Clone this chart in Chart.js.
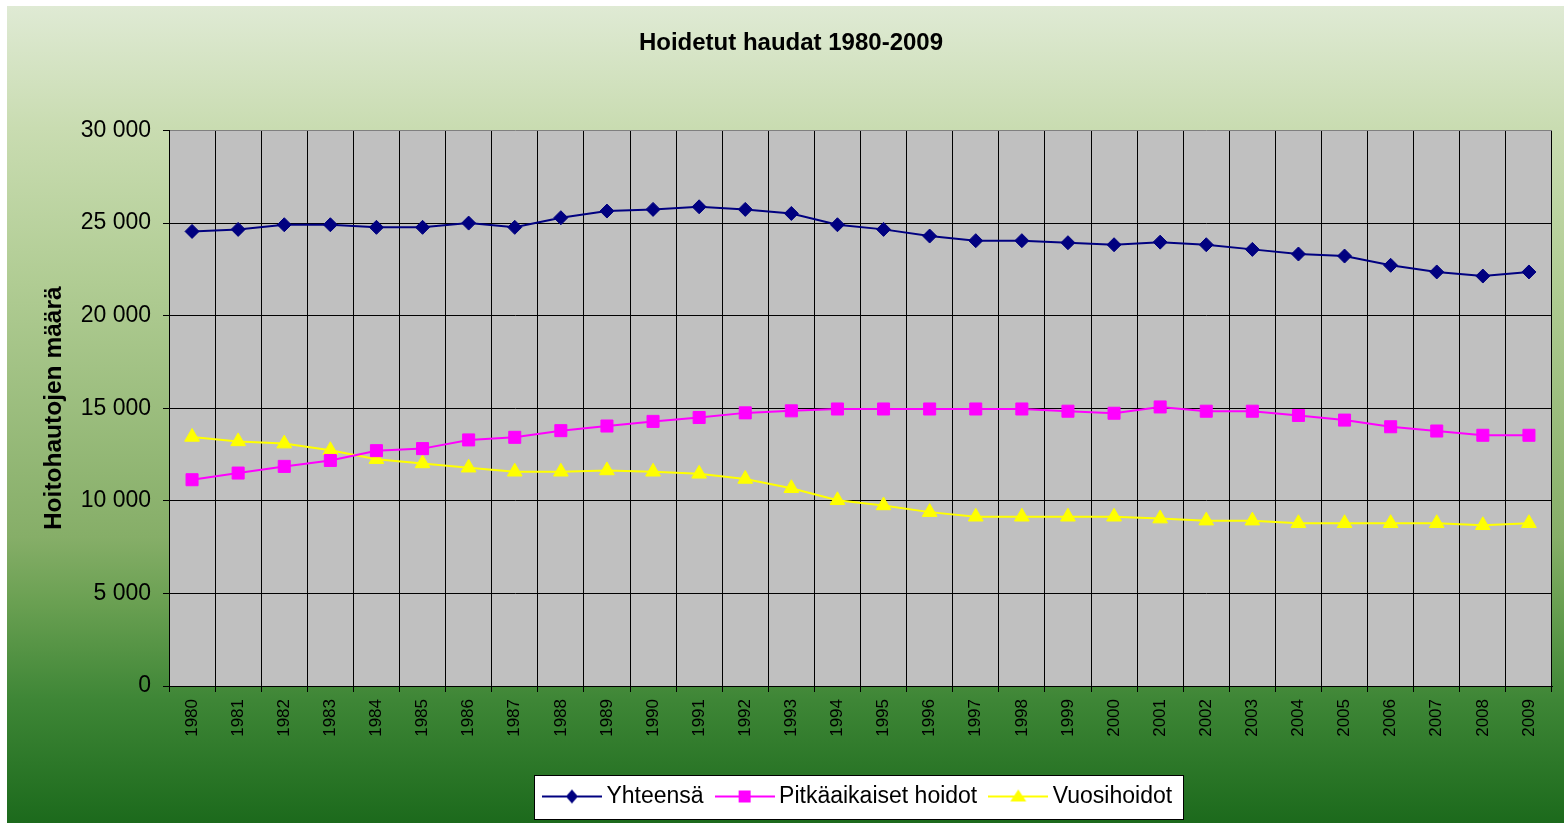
<!DOCTYPE html>
<html>
<head>
<meta charset="utf-8">
<script src="https://cdn.jsdelivr.net/npm/chart.js@4.4.1/dist/chart.umd.min.js"></script>
<style>
html,body{margin:0;padding:0;background:#fff;overflow:hidden;}
canvas{display:block;}
</style>
</head>
<body>
<canvas id="c" width="1564" height="823"></canvas>
<script>
// ---- data ----
const years = ['1980','1981','1982','1983','1984','1985','1986','1987','1988','1989',
               '1990','1991','1992','1993','1994','1995','1996','1997','1998','1999',
               '2000','2001','2002','2003','2004','2005','2006','2007','2008','2009'];
const yhteensa = [24550, 24660, 24910, 24910, 24770, 24770, 25000, 24770, 25290, 25650,
                  25740, 25880, 25740, 25520, 24910, 24660, 24300, 24050, 24050, 23940,
                  23830, 23970, 23830, 23580, 23330, 23220, 22720, 22360, 22140, 22360];
const pitkaaikaiset = [11140, 11500, 11860, 12180, 12710, 12820, 13290, 13430, 13790, 14040,
                       14290, 14500, 14750, 14860, 14960, 14960, 14960, 14960, 14960, 14840,
                       14730, 15070, 14840, 14840, 14610, 14360, 14000, 13770, 13540, 13540];
const vuosihoidot = [13450, 13210, 13090, 12730, 12250, 12020, 11790, 11570, 11570, 11640,
                     11570, 11460, 11180, 10680, 10030, 9750, 9390, 9140, 9140, 9140,
                     9140, 9040, 8930, 8930, 8790, 8790, 8790, 8790, 8680, 8790];
const seriesNames = ['Yhteensä', 'Pitkäaikaiset hoidot', 'Vuosihoidot'];
const chartTitle = 'Hoidetut haudat 1980-2009';
const yTitle = 'Hoitohautojen määrä';
const yMin = 0, yMax = 30000, yStep = 5000;

Chart.defaults.font.family = "'Liberation Sans', Arial, sans-serif";
Chart.defaults.color = '#000';

function fmt(v){ return String(v).replace(/\B(?=(\d{3})+(?!\d))/g, ' '); }

function makeIcon(color, kind){
  const c = document.createElement('canvas');
  c.width = 60; c.height = 20;
  const x = c.getContext('2d');
  x.strokeStyle = color; x.lineWidth = 2;
  x.beginPath(); x.moveTo(0,10); x.lineTo(60,10); x.stroke();
  x.fillStyle = color;
  x.beginPath();
  if (kind === 'diamond'){ x.moveTo(30,3); x.lineTo(36,10); x.lineTo(30,17); x.lineTo(24,10); }
  else if (kind === 'square'){ x.rect(24,4,12,12); }
  else { x.moveTo(30,3); x.lineTo(38,15); x.lineTo(22,15); }
  x.closePath(); x.fill();
  return c;
}
const icons = [makeIcon('#000080','diamond'), makeIcon('#ff00ff','square'), makeIcon('#ffff00','triangle')];

const bgPlugin = {
  id: 'bg',
  beforeDraw(chart){
    const {ctx, chartArea: a, width: W, height: H} = chart;
    ctx.save();
    const g = ctx.createLinearGradient(0, 6, 0, H);
    g.addColorStop(0.00, '#dfead4');
    g.addColorStop(0.15, '#c9dcb1');
    g.addColorStop(0.34, '#b0cc93');
    g.addColorStop(0.65, '#86ae68');
    g.addColorStop(0.73, '#6aa052');
    g.addColorStop(0.85, '#3e8636');
    g.addColorStop(1.00, '#1c6a1c');
    ctx.fillStyle = g;
    ctx.fillRect(7, 6, W - 7, H - 6);
    ctx.fillStyle = '#c0c0c0';
    ctx.fillRect(a.left, a.top, a.right - a.left, a.bottom - a.top);
    const lg = chart.legend;
    if (lg && lg.legendHitBoxes && lg.legendHitBoxes.length){
      const hb = lg.legendHitBoxes;
      const f = hb[0], l = hb[hb.length - 1];
      const x0 = Math.round(f.left - 15), x1 = Math.round(l.left + l.width + 12);
      const y0 = Math.round(f.top + f.height / 2 - 22);
      ctx.fillStyle = '#fff';
      ctx.fillRect(x0, y0, x1 - x0, 45);
      ctx.strokeStyle = '#000'; ctx.lineWidth = 1;
      ctx.strokeRect(x0 + 0.5, y0 + 0.5, x1 - x0 - 1, 44);
    }
    ctx.restore();
  }
};

new Chart(document.getElementById('c'), {
  type: 'line',
  data: {
    labels: years,
    datasets: [
      { label: seriesNames[0], data: yhteensa, borderColor: '#000080', backgroundColor: '#000080',
        borderWidth: 2, pointStyle: 'rectRot', pointRadius: 7, pointBorderWidth: 1, tension: 0 },
      { label: seriesNames[1], data: pitkaaikaiset, borderColor: '#ff00ff', backgroundColor: '#ff00ff',
        borderWidth: 2, pointStyle: 'rect', pointRadius: 8.5, pointBorderWidth: 1, tension: 0 },
      { label: seriesNames[2], data: vuosihoidot, borderColor: '#ffff00', backgroundColor: '#ffff00',
        borderWidth: 2, pointStyle: 'triangle', pointRadius: 8.5, pointBorderWidth: 1, tension: 0 }
    ]
  },
  options: {
    responsive: false,
    animation: false,
    devicePixelRatio: 1,
    events: [],
    layout: { padding: { left: 30, right: 12, top: 0, bottom: 5 } },
    plugins: {
      title: { display: true, text: chartTitle, color: '#000',
               font: { size: 24, weight: 'bold' }, padding: { top: 28.5, bottom: 73.2 } },
      legend: {
        position: 'bottom',
        fullSize: false,
        labels: {
          color: '#000', font: { size: 23 }, usePointStyle: true, pointStyleWidth: 46, padding: 18,
          generateLabels(chart){
            const items = Chart.defaults.plugins.legend.labels.generateLabels(chart);
            items.forEach((it, i) => { it.pointStyle = icons[i]; });
            return items;
          }
        }
      },
      tooltip: { enabled: false }
    },
    scales: {
      x: {
        offset: true,
        grid: { offset: true, tickLength: 6, tickColor: '#000', lineWidth: 1,
                color: (c) => (c.index === years.length ? '#808080' : '#000') },
        border: { color: '#000', width: 1 },
        ticks: { minRotation: 90, maxRotation: 90, autoSkip: false, padding: 7, color: '#000', font: { size: 17 } },
        afterFit(s){ s.height = 81; }
      },
      y: {
        min: yMin, max: yMax,
        ticks: { stepSize: yStep, padding: 12, color: '#000', font: { size: 23 }, callback: (v) => fmt(v) },
        grid: { tickLength: 6, tickColor: '#000', lineWidth: 1,
                color: (c) => (c.tick && c.tick.value === yMax ? '#808080' : '#000') },
        border: { color: '#000', width: 1 },
        title: { display: true, text: yTitle, color: '#000', font: { size: 24.5, weight: 'bold' }, padding: { top: 9.3, bottom: 0 } },
        afterFit(s){ s.width = 139; }
      }
    }
  },
  plugins: [bgPlugin]
});
</script>
</body>
</html>
